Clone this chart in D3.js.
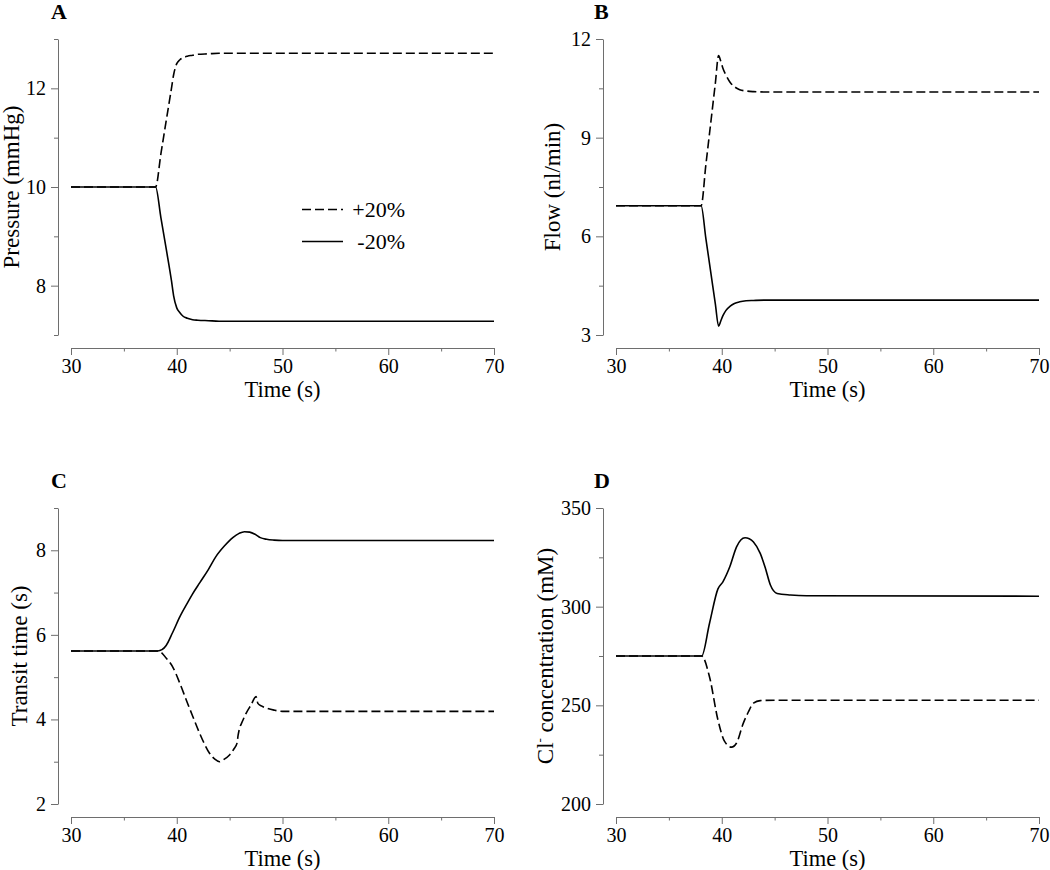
<!DOCTYPE html>
<html><head><meta charset="utf-8">
<script src="https://cdn.jsdelivr.net/npm/d3@7"></script>
<style>
body{margin:0;background:#fff;}
svg{display:block;font-family:"Liberation Serif","Times New Roman",serif;}
</style></head><body>
<svg id="c" width="1050" height="870"></svg>
<script>
// ---------------- DATA ----------------
const timeDomain = [30, 70];
const xTicks = [30, 35, 40, 45, 50, 55, 60, 65, 70];
const xTickLabels = [30, 40, 50, 60, 70];
const seriesNames = ["+20%", "-20%"];

// A: pressure
const pressureTime  = [30, 38, 38.5, 39, 39.5, 39.7, 40, 40.3, 40.6, 41, 41.5, 42, 43, 44, 70];
const pressurePlus  = [10, 10, 10.67, 11.34, 12.0, 12.27, 12.5, 12.58, 12.62, 12.65, 12.67, 12.69, 12.70, 12.71, 12.71];
const pressureMinus = [10, 10, 9.38, 8.75, 8.1, 7.8, 7.55, 7.45, 7.38, 7.34, 7.31, 7.30, 7.29, 7.28, 7.28];
const pressureTicks = [7, 8, 9, 10, 11, 12, 13];
const pressureTickLabels = [8, 10, 12];

// B: flow
const flowTime  = [30, 38.05, 38.5, 39, 39.4, 39.7, 39.9, 40.1, 40.4, 40.8, 41.2, 41.7, 42.3, 43, 44, 70];
const flowPlus  = [6.93, 6.93, 8.18, 9.56, 10.67, 11.5, 11.33, 11.12, 10.9, 10.68, 10.55, 10.46, 10.42, 10.40, 10.39, 10.39];
const flowMinus = [6.93, 6.93, 5.93, 4.82, 3.93, 3.27, 3.42, 3.58, 3.75, 3.88, 3.96, 4.01, 4.04, 4.05, 4.06, 4.06];
const flowTicks = [3, 4.5, 6, 7.5, 9, 10.5, 12];
const flowTickLabels = [3, 6, 9, 12];

// C: transit time
const transitTimeMinus = [30, 38.2, 38.6, 39, 39.6, 40.3, 41, 41.5, 42.2, 43, 43.7, 44.5, 45.3, 45.9, 46.4, 46.9, 47.4, 47.9, 48.5, 49.2, 50, 70];
const transitMinus     = [5.62, 5.62, 5.65, 5.75, 6.05, 6.43, 6.75, 6.97, 7.24, 7.55, 7.85, 8.1, 8.3, 8.4, 8.44, 8.43, 8.38, 8.3, 8.26, 8.24, 8.23, 8.23];
const transitTimePlus  = [30, 38.2, 38.6, 39, 39.6, 40.3, 40.9, 41.5, 42.15, 42.6, 43.1, 43.6, 44.05, 44.5, 44.99, 45.4, 45.7, 45.8, 45.9, 46.2, 46.57, 47.0, 47.5, 47.67, 48.0, 48.47, 49.2, 50, 70];
const transitPlus      = [5.62, 5.62, 5.57, 5.45, 5.25, 4.85, 4.46, 4.08, 3.68, 3.43, 3.2, 3.06, 3.0, 3.06, 3.16, 3.3, 3.44, 3.62, 3.75, 3.95, 4.15, 4.33, 4.54, 4.38, 4.32, 4.27, 4.22, 4.19, 4.19];
const transitTicks = [2, 3, 4, 5, 6, 7, 8, 9];
const transitTickLabels = [2, 4, 6, 8];

// D: Cl- concentration
const clTimeMinus = [30, 38.1, 38.84, 39.64, 40.11, 40.76, 41.4, 41.8, 42.2, 42.6, 43.0, 43.64, 44.1, 44.6, 45.24, 46.5, 48, 70];
const clMinus     = [275, 275, 291.5, 309, 312.6, 320.2, 330.3, 333.8, 334.9, 334.4, 332.8, 327, 320, 311, 306.7, 305.9, 305.5, 305.3];
const clTimePlus  = [30, 38.1, 38.84, 39.64, 40.27, 40.92, 41.4, 42.04, 42.5, 43.0, 43.64, 45, 70];
const clPlus      = [275, 275, 264.5, 242.6, 231.7, 228.8, 230.9, 241, 246.5, 251.1, 252.4, 252.6, 252.6];
const clTicks = [200, 225, 250, 275, 300, 325, 350];
const clTickLabels = [200, 250, 300, 350];

// ---------------- LAYOUT ----------------
const zip = (ts, vs) => ts.map((t, i) => [t, vs[i]]);

const panels = [
  {label: "A", labelX: 51, labelY: 19, axisX: 58, xStart: 71, xEnd: 494, yTop: 39, yBot: 335, xAxisY: 348,
   domain: [7, 13], ticks: pressureTicks, tickLabels: pressureTickLabels, title: "Pressure (mmHg)", titleX: 19,
   plus: zip(pressureTime, pressurePlus), minus: zip(pressureTime, pressureMinus), legend: true},
  {label: "B", labelX: 594, labelY: 19, axisX: 603, xStart: 616, xEnd: 1039, yTop: 39, yBot: 335, xAxisY: 348,
   domain: [3, 12], ticks: flowTicks, tickLabels: flowTickLabels, title: "Flow (nl/min)", titleX: 560,
   plus: zip(flowTime, flowPlus), minus: zip(flowTime, flowMinus)},
  {label: "C", labelX: 51, labelY: 488, axisX: 58, xStart: 71, xEnd: 494, yTop: 508, yBot: 804, xAxisY: 817,
   domain: [2, 9], ticks: transitTicks, tickLabels: transitTickLabels, title: "Transit time (s)", titleX: 27,
   plus: zip(transitTimePlus, transitPlus), minus: zip(transitTimeMinus, transitMinus)},
  {label: "D", labelX: 594, labelY: 488, axisX: 603, xStart: 616, xEnd: 1039, yTop: 508, yBot: 804, xAxisY: 817,
   domain: [200, 350], ticks: clTicks, tickLabels: clTickLabels, title: "cl", titleX: 553,
   plus: zip(clTimePlus, clPlus), minus: zip(clTimeMinus, clMinus)}
];

const svg = d3.select("#c");
const axisColor = "#6e6e6e";

panels.forEach(p => {
  const g = svg.append("g");
  const x = d3.scaleLinear().domain(timeDomain).range([p.xStart, p.xEnd]);
  const y = d3.scaleLinear().domain(p.domain).range([p.yBot, p.yTop]);

  // x axis
  const gx = g.append("g").attr("transform", `translate(0,${p.xAxisY})`)
    .call(d3.axisBottom(x).tickValues(xTicks).tickSize(7).tickSizeOuter(0).tickPadding(4)
      .tickFormat(d => xTickLabels.includes(d) ? d : ""));
  gx.selectAll(".tick line").attr("y2", d => xTickLabels.includes(d) ? 7 : 3.5);
  // y axis
  const gy = g.append("g").attr("transform", `translate(${p.axisX},0)`)
    .call(d3.axisLeft(y).tickValues(p.ticks).tickSize(7).tickSizeOuter(0).tickPadding(5)
      .tickFormat(d => p.tickLabels.includes(d) ? d : ""));
  gy.selectAll(".tick line").attr("x2", d => p.tickLabels.includes(d) ? -7 : -4);

  [gx, gy].forEach(a => {
    a.select(".domain").attr("stroke", axisColor);
    a.selectAll(".tick line").attr("stroke", axisColor);
    a.selectAll(".tick text").attr("fill", "#000").style("font-size", "20px")
      .style("font-family", '"Liberation Serif","Times New Roman",serif');
  });

  // axis titles
  g.append("text").attr("x", (p.xStart + p.xEnd) / 2).attr("y", p.xAxisY + 48.5)
    .attr("text-anchor", "middle").style("font-size", "22.5px").text("Time (s)");
  const yt = g.append("text")
    .attr("transform", `translate(${p.titleX},${(p.yTop + p.yBot) / 2}) rotate(-90)`)
    .attr("text-anchor", "middle").style("font-size", "23px");
  if (p.title === "cl") {
    yt.append("tspan").text("Cl");
    yt.append("tspan").attr("dy", -9).style("font-size", "13px").text("-");
    yt.append("tspan").attr("dy", 9).text(" concentration (mM)");
  } else {
    yt.text(p.title);
  }

  // panel label
  g.append("text").attr("x", p.labelX).attr("y", p.labelY)
    .style("font-size", "22px").style("font-weight", "bold").text(p.label);

  // lines
  const line = d3.line().x(d => x(d[0])).y(d => y(d[1])).curve(d3.curveMonotoneX);
  g.append("path").datum(p.plus).attr("d", line).attr("fill", "none")
    .attr("stroke", "#000").attr("stroke-width", 1.6).attr("stroke-dasharray", "9,4");
  g.append("path").datum(p.minus).attr("d", line).attr("fill", "none")
    .attr("stroke", "#000").attr("stroke-width", 1.6);

  if (p.legend) {
    const items = [{name: seriesNames[0], dash: "9,4", y: 209.5}, {name: seriesNames[1], dash: null, y: 241.5}];
    items.forEach(it => {
      g.append("line").attr("x1", 302).attr("x2", 343).attr("y1", it.y).attr("y2", it.y)
        .attr("stroke", "#000").attr("stroke-width", 1.6).attr("stroke-dasharray", it.dash);
      g.append("text").attr("x", 405).attr("y", it.y + 7.5).attr("text-anchor", "end")
        .style("font-size", "22px").text(it.name);
    });
  }
});
</script>
</body></html>
